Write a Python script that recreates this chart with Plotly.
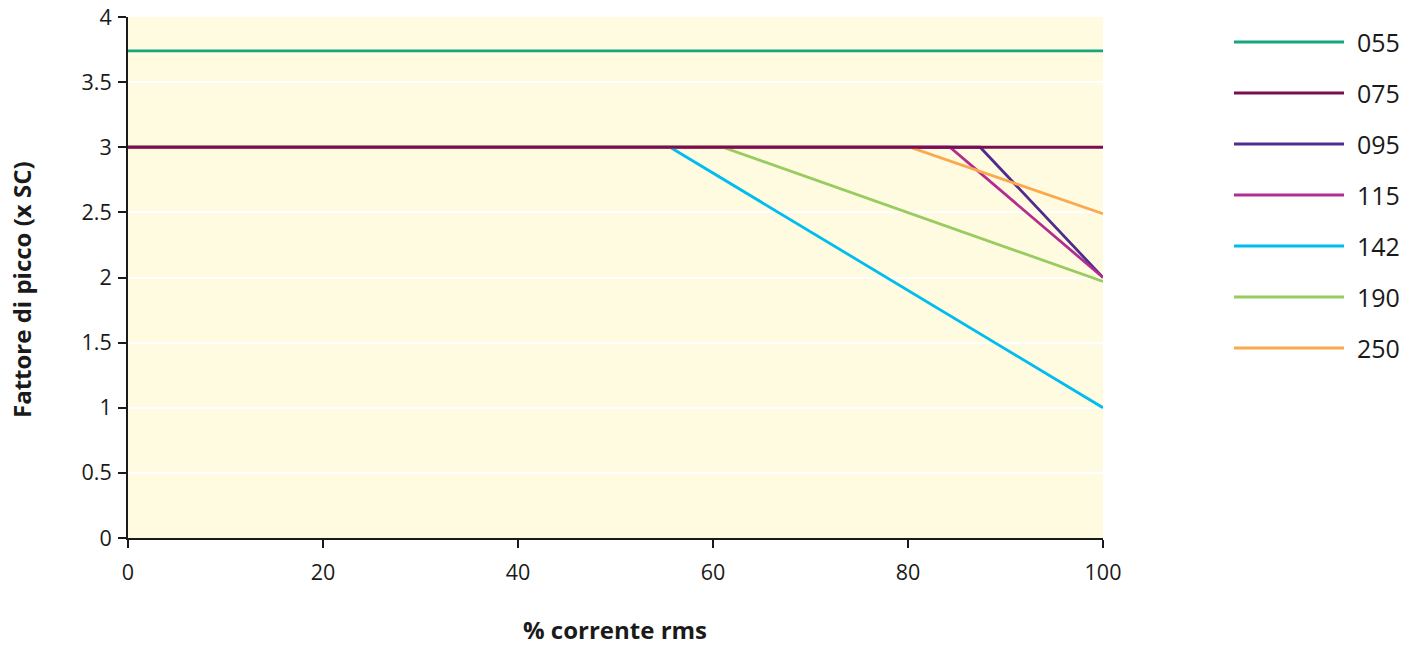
import plotly.graph_objects as go

# ---- data ----
series_names = ["055", "075", "095", "115", "142", "190", "250"]
series_x = [
    [0, 100],
    [0, 100],
    [0, 87.4, 100],
    [0, 84.3, 100],
    [0, 55.6, 100],
    [0, 61.0, 100],
    [0, 80.2, 100],
]
series_y = [
    [3.74, 3.74],
    [3.0, 3.0],
    [3.0, 3.0, 2.0],
    [3.0, 3.0, 2.0],
    [3.0, 3.0, 1.0],
    [3.0, 3.0, 1.97],
    [3.0, 3.0, 2.49],
]
colors = ["#17A57F", "#7B0E52", "#4F2C8E", "#B22D8F", "#00BDF0", "#98CC5F", "#FBA94F"]
x_ticks = [0, 20, 40, 60, 80, 100]
y_ticks = [0, 0.5, 1, 1.5, 2, 2.5, 3, 3.5, 4]
x_title = "% corrente rms"
y_title = "Fattore di picco (x SC)"

FONT = "Open Sans"
W, H = 1421, 646
# target plot box in window pixels: x 128..1103, y 17..538
L, T = 128, 17
R = W - 1103
B = H - 538
pw = W - L - R
ph = H - T - B


def px_x(x):
    return (x - L) / pw


def px_y(y):
    return (H - B - y) / ph


fig = go.Figure()
# draw 075 last so it sits on top of the flat segments
order = [0, 2, 3, 4, 5, 6, 1]
for i in order:
    fig.add_trace(go.Scatter(
        x=series_x[i], y=series_y[i], mode="lines", name=series_names[i],
        line=dict(color=colors[i], width=2.8), showlegend=False,
    ))

# manual legend (long line samples)
legend_y_px = [42, 93, 144, 195, 246, 297, 348]
for i, name in enumerate(series_names):
    yp = px_y(legend_y_px[i])
    fig.add_shape(type="line", xref="paper", yref="paper", x0=px_x(1234), x1=px_x(1344),
                  y0=yp, y1=yp, line=dict(color=colors[i], width=2.8))
    fig.add_annotation(xref="paper", yref="paper", x=px_x(1355), y=yp, text=name,
                       showarrow=False, xanchor="left", yanchor="middle",
                       font=dict(family=FONT, size=25, color="#1a1a1a"))

# axis titles as annotations for precise placement
fig.add_annotation(xref="paper", yref="paper", x=px_x(615), y=px_y(629),
                   text="<b>" + x_title + "</b>",
                   showarrow=False, xanchor="center", yanchor="middle",
                   font=dict(family=FONT, size=24, color="#1a1a1a"))
fig.add_annotation(xref="paper", yref="paper", x=px_x(21), y=px_y(290),
                   text="<b>" + y_title + "</b>", textangle=-90,
                   showarrow=False, xanchor="center", yanchor="middle",
                   font=dict(family=FONT, size=24, color="#1a1a1a"))

fig.update_layout(
    width=W, height=H,
    margin=dict(l=L, r=R, t=T, b=B, pad=0),
    paper_bgcolor="white",
    plot_bgcolor="#FFFBE0",
    font=dict(family=FONT, size=21, color="#1a1a1a"),
    showlegend=False,
)
fig.update_xaxes(
    range=[0, 100], tickvals=x_ticks, ticks="outside", ticklen=8, tickwidth=2,
    tickcolor="#1a1a1a", showline=True, linecolor="#1a1a1a", linewidth=2,
    showgrid=False, zeroline=False, tickfont=dict(size=21.5), automargin=False,
    ticklabelstandoff=6, ticklabeloverflow="allow",
)
fig.update_yaxes(
    range=[0, 4], tickvals=y_ticks, ticks="outside", ticklen=8, tickwidth=2,
    tickcolor="#1a1a1a", showline=True, linecolor="#1a1a1a", linewidth=2,
    showgrid=True, gridcolor="white", gridwidth=1.5, zeroline=False,
    tickfont=dict(size=21.5), automargin=False, ticklabelstandoff=2,
    ticklabeloverflow="allow",
)

# remove the browser's default page margin so the figure fills the window exactly
fig.write_html("out.html", config={"displayModeBar": False},
               post_script="document.body.style.margin='0';")
